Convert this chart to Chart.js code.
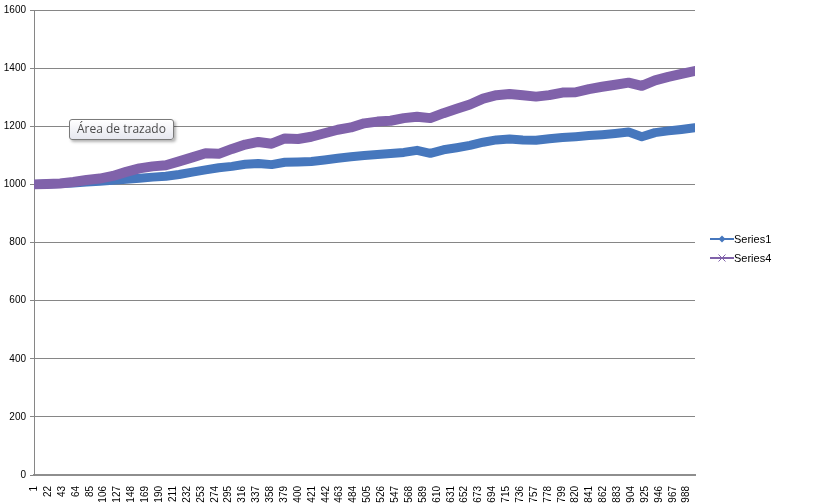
<!DOCTYPE html>
<html>
<head>
<meta charset="utf-8">
<script src="https://cdn.jsdelivr.net/npm/chart.js@4.4.1/dist/chart.umd.min.js"></script>
<style>
    body { margin: 0; background: #fff; }
    #wrap { position: relative; width: 819px; height: 503px; }
    #tip {
        position: absolute; left: 69px; top: 119px; height: 19px;
        padding: 0 7px; line-height: 19px;
        border: 1px solid #7a7a7a; border-radius: 3px;
        background: linear-gradient(#ffffff, #e6e7ef);
        box-shadow: 2px 2px 3px rgba(0, 0, 0, 0.3);
        font: 12px "Open Sans", "Liberation Sans", sans-serif; color: #4a4a4a;
        white-space: nowrap;
    }
</style>
</head>
<body>
<div id="wrap">
    <canvas id="chartCanvas"></canvas>
    <div id="tip">Área de trazado</div>
</div>
<script>
// sample positions (category index)
const categories = [1, 20, 40, 60, 80, 100, 120, 140, 160, 180, 200, 220, 240, 260, 280, 300,
    320, 340, 360, 380, 400, 420, 440, 460, 480, 500, 520, 540, 560, 580, 600, 620, 640, 660,
    680, 700, 720, 740, 760, 780, 800, 820, 840, 860, 880, 900, 920, 940, 960, 980, 1000];

const series1 = [1000, 1001, 1003, 1005, 1008, 1011, 1014, 1018, 1021, 1025, 1028, 1034, 1042,
    1050, 1057, 1062, 1069, 1072, 1068, 1076, 1077, 1079, 1084, 1090, 1095, 1099, 1103, 1106,
    1110, 1117, 1107, 1119, 1126, 1134, 1145, 1153, 1156, 1153, 1152, 1157, 1161, 1164, 1168,
    1171, 1175, 1180, 1164, 1178, 1184, 1189, 1195];

const series4 = [1000, 1001, 1003, 1008, 1015, 1020, 1029, 1043, 1055, 1062, 1066, 1079, 1093,
    1107, 1105, 1122, 1137, 1146, 1140, 1158, 1156, 1164, 1176, 1188, 1196, 1210, 1216, 1219,
    1228, 1233, 1228, 1245, 1260, 1275, 1295, 1307, 1311, 1307, 1302, 1307, 1316, 1317, 1328,
    1336, 1343, 1350, 1339, 1358, 1370, 1380, 1390];

const tickLabels = [1, 22, 43, 64, 85, 106, 127, 148, 169, 190, 211, 232, 253, 274, 295, 316,
    337, 358, 379, 400, 421, 442, 463, 484, 505, 526, 547, 568, 589, 610, 631, 652, 673, 694,
    715, 736, 757, 778, 799, 820, 841, 862, 883, 904, 925, 946, 967, 988];

const yTicks = [0, 200, 400, 600, 800, 1000, 1200, 1400, 1600];

const BLUE = '#4677bd';
const PURPLE = '#8062aa';
const GRID = '#868686';
const font = { family: '"Liberation Sans", Arial, sans-serif', size: 10 };

// Excel style legend: short line with marker, then the name
const sideLegend = {
    id: 'sideLegend',
    afterDraw(chart) {
        const ctx = chart.ctx;
        const items = [
            { text: 'Series1', color: BLUE, y: 239, mark: 'diamond' },
            { text: 'Series4', color: PURPLE, y: 258, mark: 'cross' }
        ];
        ctx.save();
        items.forEach(it => {
            ctx.strokeStyle = it.color;
            ctx.fillStyle = it.color;
            ctx.lineWidth = 2;
            ctx.beginPath();
            ctx.moveTo(710, it.y);
            ctx.lineTo(734, it.y);
            ctx.stroke();
            if (it.mark === 'diamond') {
                ctx.beginPath();
                ctx.moveTo(722, it.y - 3.5);
                ctx.lineTo(725.5, it.y);
                ctx.lineTo(722, it.y + 3.5);
                ctx.lineTo(718.5, it.y);
                ctx.closePath();
                ctx.fill();
            } else {
                ctx.lineWidth = 1;
                ctx.beginPath();
                ctx.moveTo(718.5, it.y - 3.5);
                ctx.lineTo(725.5, it.y + 3.5);
                ctx.moveTo(725.5, it.y - 3.5);
                ctx.lineTo(718.5, it.y + 3.5);
                ctx.stroke();
            }
            ctx.fillStyle = '#000';
            ctx.font = '11px "Liberation Sans", Arial, sans-serif';
            ctx.textBaseline = 'middle';
            ctx.fillText(it.text, 734, it.y + 0.5);
        });
        ctx.restore();
    }
};

const ctx = document.getElementById('chartCanvas');
new Chart(ctx, {
    type: 'line',
    data: {
        datasets: [{
            label: 'Series1',
            data: categories.map((c, i) => ({ x: c, y: series1[i] })),
            borderColor: BLUE,
            borderWidth: 9,
            borderJoinStyle: 'round',
            borderCapStyle: 'round',
            pointRadius: 0,
            order: 1
        }, {
            label: 'Series4',
            data: categories.map((c, i) => ({ x: c, y: series4[i] })),
            borderColor: PURPLE,
            borderWidth: 10,
            borderJoinStyle: 'round',
            borderCapStyle: 'round',
            pointRadius: 0,
            order: 0
        }]
    },
    options: {
        responsive: true,
        maintainAspectRatio: false,
        animation: false,
        layout: { padding: { top: 5, right: 124, left: 0, bottom: 0 } },
        scales: {
            x: {
                type: 'linear',
                min: 0.5,
                max: 1000.5,
                afterBuildTicks: (s) => { s.ticks = tickLabels.map(v => ({ value: v })); },
                afterFit: (s) => { s.height = 28; },
                ticks: {
                    autoSkip: false,
                    maxRotation: 90,
                    minRotation: 90,
                    padding: 3,
                    font: font,
                    color: '#000',
                    callback: (v) => String(v)
                },
                grid: { display: false },
                border: { color: '#8e8e8e', width: 2 }
            },
            y: {
                min: 0,
                max: 1600,
                afterBuildTicks: (s) => { s.ticks = yTicks.map(v => ({ value: v })); },
                afterFit: (s) => { s.width = 34; },
                ticks: { padding: 4, font: font, color: '#000', callback: (v) => String(v) },
                grid: { color: GRID, tickLength: 4 },
                border: { color: GRID }
            }
        },
        plugins: {
            legend: { display: false },
            tooltip: { enabled: false }
        }
    },
    plugins: [sideLegend]
});
</script>
</body>
</html>
